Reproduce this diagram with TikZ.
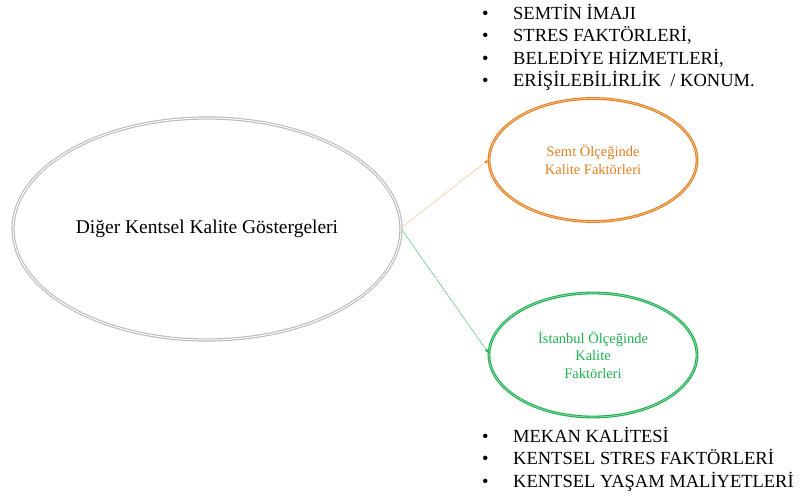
\documentclass[tikz,border=0pt]{standalone}
\usepackage{fontspec}
\setmainfont{Liberation Serif}
\usetikzlibrary{shapes.geometric,arrows.meta}
\definecolor{ellgrey}{RGB}{185,185,185}
\definecolor{orng}{RGB}{226,128,32}
\definecolor{orngl}{RGB}{248,196,150}
\definecolor{grn}{RGB}{30,176,80}
\definecolor{grnl}{RGB}{90,196,120}
\tikzset{
  oval/.style={ellipse, inner sep=0pt, align=center},
  conn/.style={line width=0.5pt},
  bullist/.style={anchor=north west, align=left, inner sep=0pt, font=\fontsize{18.5}{22.5}\selectfont}
}
\begin{document}
\begin{tikzpicture}[x=1pt,y=1pt]
\useasboundingbox (0,0) rectangle (801,-500);
\node[oval, minimum width=388, minimum height=222, draw=ellgrey, line width=1.1pt, double=white, double distance=1pt, font=\fontsize{19.5}{22}\selectfont] (main) at (207,-229) {Diğer Kentsel Kalite Göstergeleri};
\node[oval, minimum width=208, minimum height=123, draw=orng, line width=1.1pt, double=orng!40, double distance=0.6pt, text=orng, font=\fontsize{14.5}{18}\selectfont] (semt) at (593,-160) {Semt Ölçeğinde\\Kalite Faktörleri};
\node[oval, minimum width=208, minimum height=124, draw=grn, line width=1.1pt, double=grn!40, double distance=0.6pt, text=grn, font=\fontsize{14.5}{17.5}\selectfont] (ist) at (593,-355) {İstanbul Ölçeğinde\\Kalite\\Faktörleri};
\coordinate (o1) at (402,-227);
\coordinate (o2) at (402,-230);
\draw[conn, orngl, -{Latex[length=4pt,width=3pt,fill=orng,color=orng]}] (o1) -- (semt.west |- 0,-160) ;
\draw[conn, grnl, -{Latex[length=4pt,width=3pt,fill=grn,color=grn]}] (o2) -- (ist.west |- 0,-353);
\node[bullist] (toplist) at (482,-4) {%
\makebox[31pt][l]{•}SEMTİN İMAJI\\
\makebox[31pt][l]{•}STRES FAKTÖRLERİ,\\
\makebox[31pt][l]{•}BELEDİYE HİZMETLERİ,\\
\makebox[31pt][l]{•}ERİŞİLEBİLİRLİK\ \ / KONUM.};
\node[bullist] (botlist) at (482,-427) {%
\makebox[31pt][l]{•}MEKAN KALİTESİ\\
\makebox[31pt][l]{•}KENTSEL STRES FAKTÖRLERİ\\
\makebox[31pt][l]{•}KENTSEL YAŞAM MALİYETLERİ};
\end{tikzpicture}
\end{document}
